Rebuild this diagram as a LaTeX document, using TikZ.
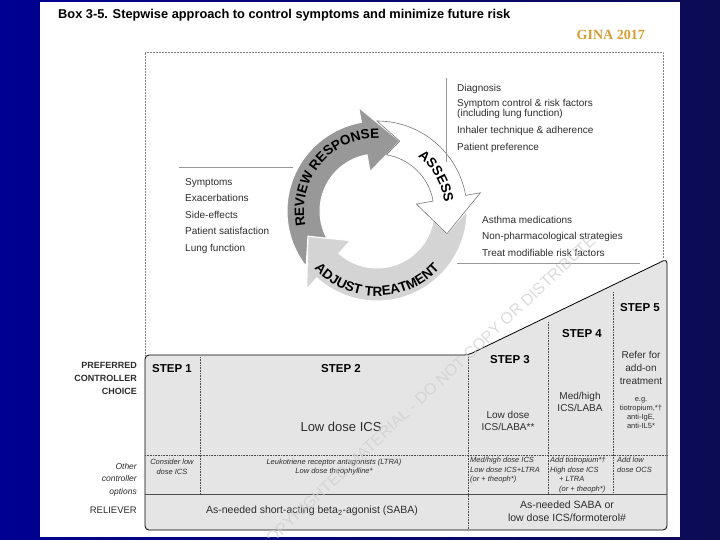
\documentclass[tikz,border=0pt]{standalone}
\usepackage{fontspec}
\setmainfont{Liberation Sans}
\setsansfont{Liberation Sans}
\newfontfamily\ginafont{Liberation Serif}
\usetikzlibrary{decorations.text}

\definecolor{slideblue}{RGB}{0,0,146}
\definecolor{slidenavy}{RGB}{12,12,84}
\definecolor{ginagold}{RGB}{212,158,52}
\definecolor{inkgray}{RGB}{45,45,45}
\definecolor{boxfill}{RGB}{229,229,229}
\definecolor{reviewfill}{RGB}{152,152,152}
\definecolor{adjustfill}{RGB}{212,212,212}
\definecolor{assessline}{RGB}{120,120,120}
\definecolor{stampgray}{RGB}{205,205,205}

\newcommand{\ringfont}{\bfseries\fontsize{13.5}{13.5}\selectfont}

% one curved arrow of the cycle, its tail cut to fit the head before it
\newcommand{\cyclearrow}[3]{%
  \path[#1] ({#2-10}:90) arc[start angle={#2-10}, end angle={#3}, radius=90]
    -- ({#3}:105) -- ({#3-28}:73.5) -- ({#3}:40) -- ({#3}:57)
    arc[start angle={#3}, end angle={#2-19.5}, radius=57]
    -- ({#2-28}:73.5) -- cycle;}

\tikzset{
  listitem/.style={anchor=base west, inner sep=0pt, text=inkgray, font=\fontsize{10}{12}\selectfont},
  sidelabel/.style={inner sep=0pt, align=right, text=inkgray},
  steplabel/.style={anchor=base west, inner sep=0pt, font=\bfseries\fontsize{11.5}{12}\selectfont},
  drug/.style={inner sep=0pt, align=center, text=inkgray},
  option/.style={inner sep=0pt, text=inkgray, font=\itshape\fontsize{7.5}{9.5}\selectfont},
  frameline/.style={densely dotted, gray, line width=0.5pt},
  divider/.style={densely dotted, black!70, line width=0.6pt},
  feedline/.style={gray!80, line width=0.6pt},
}

\begin{document}
\begin{tikzpicture}[x=1pt, y=-1pt]
    % Slide
    \shade[left color=slideblue, right color=slidenavy] (0,0) rectangle (720,540);
    \fill[white] (40,2) rectangle (680,537);
    \useasboundingbox (0,0) rectangle (720,540);

    % Title
    \node[anchor=base west, inner sep=0pt, font=\bfseries\fontsize{12.8}{14}\selectfont] (title) at (58,19)
        {Box 3-5. Stepwise approach to control symptoms and minimize future risk};
    \node[anchor=base east, inner sep=0pt, text=ginagold, font=\ginafont\bfseries\fontsize{14}{16}\selectfont] (gina) at (645,40) {GINA 2017};

    % Dotted frame
    \coordinate (fsw) at (145,355);
    \coordinate (fnw) at (145,52);
    \coordinate (fne) at (663,52);
    \coordinate (fse) at (663,258);
    \draw[frameline] (fsw) -- (fnw) -- (fne) -- (fse);

    % Cycle
    \begin{scope}[shift={(377,211)}, y=1pt]
        \cyclearrow{fill=adjustfill, draw=white, line width=1pt}{10}{-132}
        \cyclearrow{fill=reviewfill, draw=white, line width=1pt}{228}{100}
        \cyclearrow{fill=white, draw=assessline, line width=0.6pt}{100}{10}
        \path[decorate, decoration={text along path, text align=center, text={|\ringfont|REVIEW RESPONSE}}]
            (200:73) arc[start angle=200, end angle=80, radius=73];
        \path[decorate, decoration={text along path, text align=center, text={|\ringfont|ASSESS}}]
            (60:68) arc[start angle=60, end angle=0, radius=68];
        \path[decorate, decoration={text along path, text align=center, text={|\ringfont|ADJUST TREATMENT}}]
            (210:85) arc[start angle=210, end angle=330, radius=85];
    \end{scope}

    % Review list
    \coordinate (rl1) at (179,167);
    \coordinate (rl2) at (293,167);
    \draw[feedline] (rl1) -- (rl2);
    \foreach \item [count=\i] in {Symptoms, Exacerbations, Side-effects, Patient satisfaction, Lung function}
        \node[listitem] (rev\i) at (185, 185.5+16.5*\i-16.5) {\item};

    % Assess list
    \coordinate (al1) at (446,78);
    \coordinate (al2) at (446,162);
    \draw[feedline] (al1) -- (al2);
    \node[listitem] (ass1) at (457,91.5) {Diagnosis};
    \node[listitem] (ass2) at (457,106.5) {Symptom control \& risk factors};
    \node[listitem] (ass3) at (457,117) {(including lung function)};
    \node[listitem] (ass4) at (457,133.5) {Inhaler technique \& adherence};
    \node[listitem] (ass5) at (457,150.5) {Patient preference};

    % Adjust list
    \foreach \item [count=\i] in {Asthma medications, Non-pharmacological strategies, Treat modifiable risk factors}
        \node[listitem] (adj\i) at (482, 223.5+16.5*\i-16.5) {\item};
    \coordinate (jl1) at (457,263);
    \coordinate (jl2) at (640,263);
    \draw[feedline] (jl1) -- (jl2);

    % Steps box
    \coordinate (b1) at (145,355);
    \coordinate (b2) at (468,355);
    \coordinate (b3) at (667,259);
    \coordinate (b4) at (667,530);
    \coordinate (b5) at (145,530);
    \draw[line width=0.8pt, fill=boxfill, rounded corners=4pt] (b1) -- (b2) -- (b3) -- (b4) -- (b5) -- cycle;
    \draw[divider] (145,455) -- (667,455);
    \draw[line width=0.6pt, black!70] (145,494) -- (667,494);
    \draw[divider] (200,357) -- (200,494);
    \draw[divider] (468,357) -- (468,529);
    \draw[divider] (548,322) -- (548,494);
    \draw[divider] (613,292) -- (613,494);

    % Row labels
    \node[sidelabel, anchor=north east, font=\bfseries\fontsize{9}{13}\selectfont] (pref) at (137,362) {PREFERRED\\CONTROLLER\\CHOICE};
    \node[sidelabel, anchor=north east, font=\itshape\fontsize{8.5}{12.5}\selectfont] (other) at (137,463) {Other\\controller\\options};
    \node[sidelabel, anchor=base east, font=\fontsize{9.5}{12}\selectfont] (rel) at (137,513) {RELIEVER};

    % Steps
    \node[steplabel] (st1) at (152,372) {STEP 1};
    \node[steplabel] (st2) at (321,372) {STEP 2};
    \node[steplabel] (st3) at (490,363) {STEP 3};
    \node[steplabel] (st4) at (562,337) {STEP 4};
    \node[steplabel] (st5) at (620,311) {STEP 5};

    % Preferred controllers
    \node[drug, font=\fontsize{13}{15}\selectfont] (c2) at (341,427) {Low dose ICS};
    \node[drug, font=\fontsize{10}{12}\selectfont] (c3) at (508,421) {Low dose\\ICS/LABA**};
    \node[drug, font=\fontsize{10}{12}\selectfont] (c4) at (580,402) {Med/high\\ICS/LABA};
    \node[drug, font=\fontsize{10}{13}\selectfont] (c5) at (641,368) {Refer for\\add-on\\treatment};
    \node[drug, font=\fontsize{7.5}{9}\selectfont] (c5b) at (641,413) {e.g.\\tiotropium,*\textdagger\\anti-IgE,\\anti-IL5*};

    % Other controller options
    \node[option, align=center] (o1) at (172,467) {Consider low\\dose ICS};
    \node[option, align=center] (o2) at (334,467) {Leukotriene receptor antagonists (LTRA)\\Low dose theophylline*};
    \node[option, align=left, anchor=north west] (o3) at (470,457) {Med/high dose ICS\\Low dose ICS+LTRA\\(or + theoph*)};
    \node[option, align=left, anchor=north west] (o4) at (550,457) {Add tiotropium*\textdagger\\High dose ICS\\\hspace*{9pt}+ LTRA\\\hspace*{9pt}(or + theoph*)};
    \node[option, align=left, anchor=north west] (o5) at (617,457) {Add low\\dose OCS};

    % Relievers
    \node[drug, font=\fontsize{10.5}{13}\selectfont] (r1) at (312,511) {As-needed short-acting beta\textsubscript{2}-agonist (SABA)};
    \node[drug, font=\fontsize{10.5}{13}\selectfont] (r2) at (567,511) {As-needed SABA or\\low dose ICS/formoterol\#};

    % Watermark
    \begin{scope}
        \clip (40,2) rectangle (680,537);
        \node[anchor=east, rotate=43, inner sep=0pt, text=stampgray, opacity=0.7, font=\fontsize{16}{16}\selectfont] (stamp) at (593,238)
            {COPYRIGHTED MATERIAL - DO NOT COPY OR DISTRIBUTE};
    \end{scope}
\end{tikzpicture}
\end{document}
